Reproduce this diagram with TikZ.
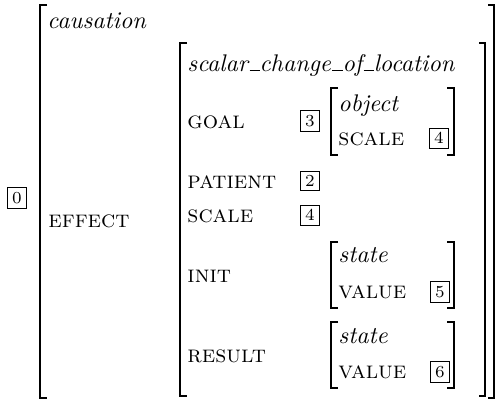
\documentclass[tikz,border=0pt]{standalone}
\newcommand\usc{\kern.06em\vbox{\hrule width.42em}}
\begin{document}
\begin{tikzpicture}[x=0.0146cm, y=-0.0146cm,
    brk/.style={line width=0.5pt},
    feat/.style={anchor=base west, inner sep=0pt, font=\scshape},
    typ/.style={anchor=base west, inner sep=0pt, font=\itshape},
    tag/.style={draw, font=\scriptsize, inner sep=1.8pt, line width=0.4pt}]
    \useasboundingbox (0,0) rectangle (496,401);

    % 1. Outer and inner brackets
    \draw[brk] (47,5) -- (40,5) -- (40,398) -- (47,398);
    \draw[brk] (488,5) -- (494,5) -- (494,398) -- (488,398);
    \draw[brk] (187,43) -- (180,43) -- (180,396) -- (187,396);
    \draw[brk] (479,43) -- (485,43) -- (485,396) -- (479,396);

    % 2. Small brackets for the embedded values
    \foreach \top/\bot in {88/155, 242/308, 322/388} {
        \draw[brk] (338,\top) -- (331,\top) -- (331,\bot) -- (338,\bot);
        \draw[brk] (447,\top) -- (454,\top) -- (454,\bot) -- (447,\bot);
    }

    % 3. Outer structure
    \node[tag] (t0) at (17,198) {0};
    \node[typ] (causation) at (47,28) {causation};
    \node[feat] (effect) at (48,227) {effect};

    % 4. Inner structure
    \node[typ] (scalar) at (187,71) {scalar\usc change\usc of\usc location};
    \node[feat] (goal) at (187,128) {goal};
    \node[feat] (patient) at (187,188) {patient};
    \node[feat] (scale) at (187,222) {scale};
    \node[feat] (init) at (187,282) {init};
    \node[feat] (result) at (187,362) {result};

    \node[tag] (t3) at (310,121) {3};
    \node[tag] (t2) at (310,181) {2};
    \node[tag] (t4) at (310,215) {4};

    % 5. Embedded values
    \node[typ] (object) at (338,111) {object};
    \node[feat] (objscale) at (338,145) {scale};
    \node[tag] (t4b) at (439,138) {4};

    \node[typ] (state1) at (338,262) {state};
    \node[feat] (value1) at (338,298) {value};
    \node[tag] (t5) at (440,292) {5};

    \node[typ] (state2) at (338,343) {state};
    \node[feat] (value2) at (338,378) {value};
    \node[tag] (t6) at (440,372) {6};
\end{tikzpicture}
\end{document}
